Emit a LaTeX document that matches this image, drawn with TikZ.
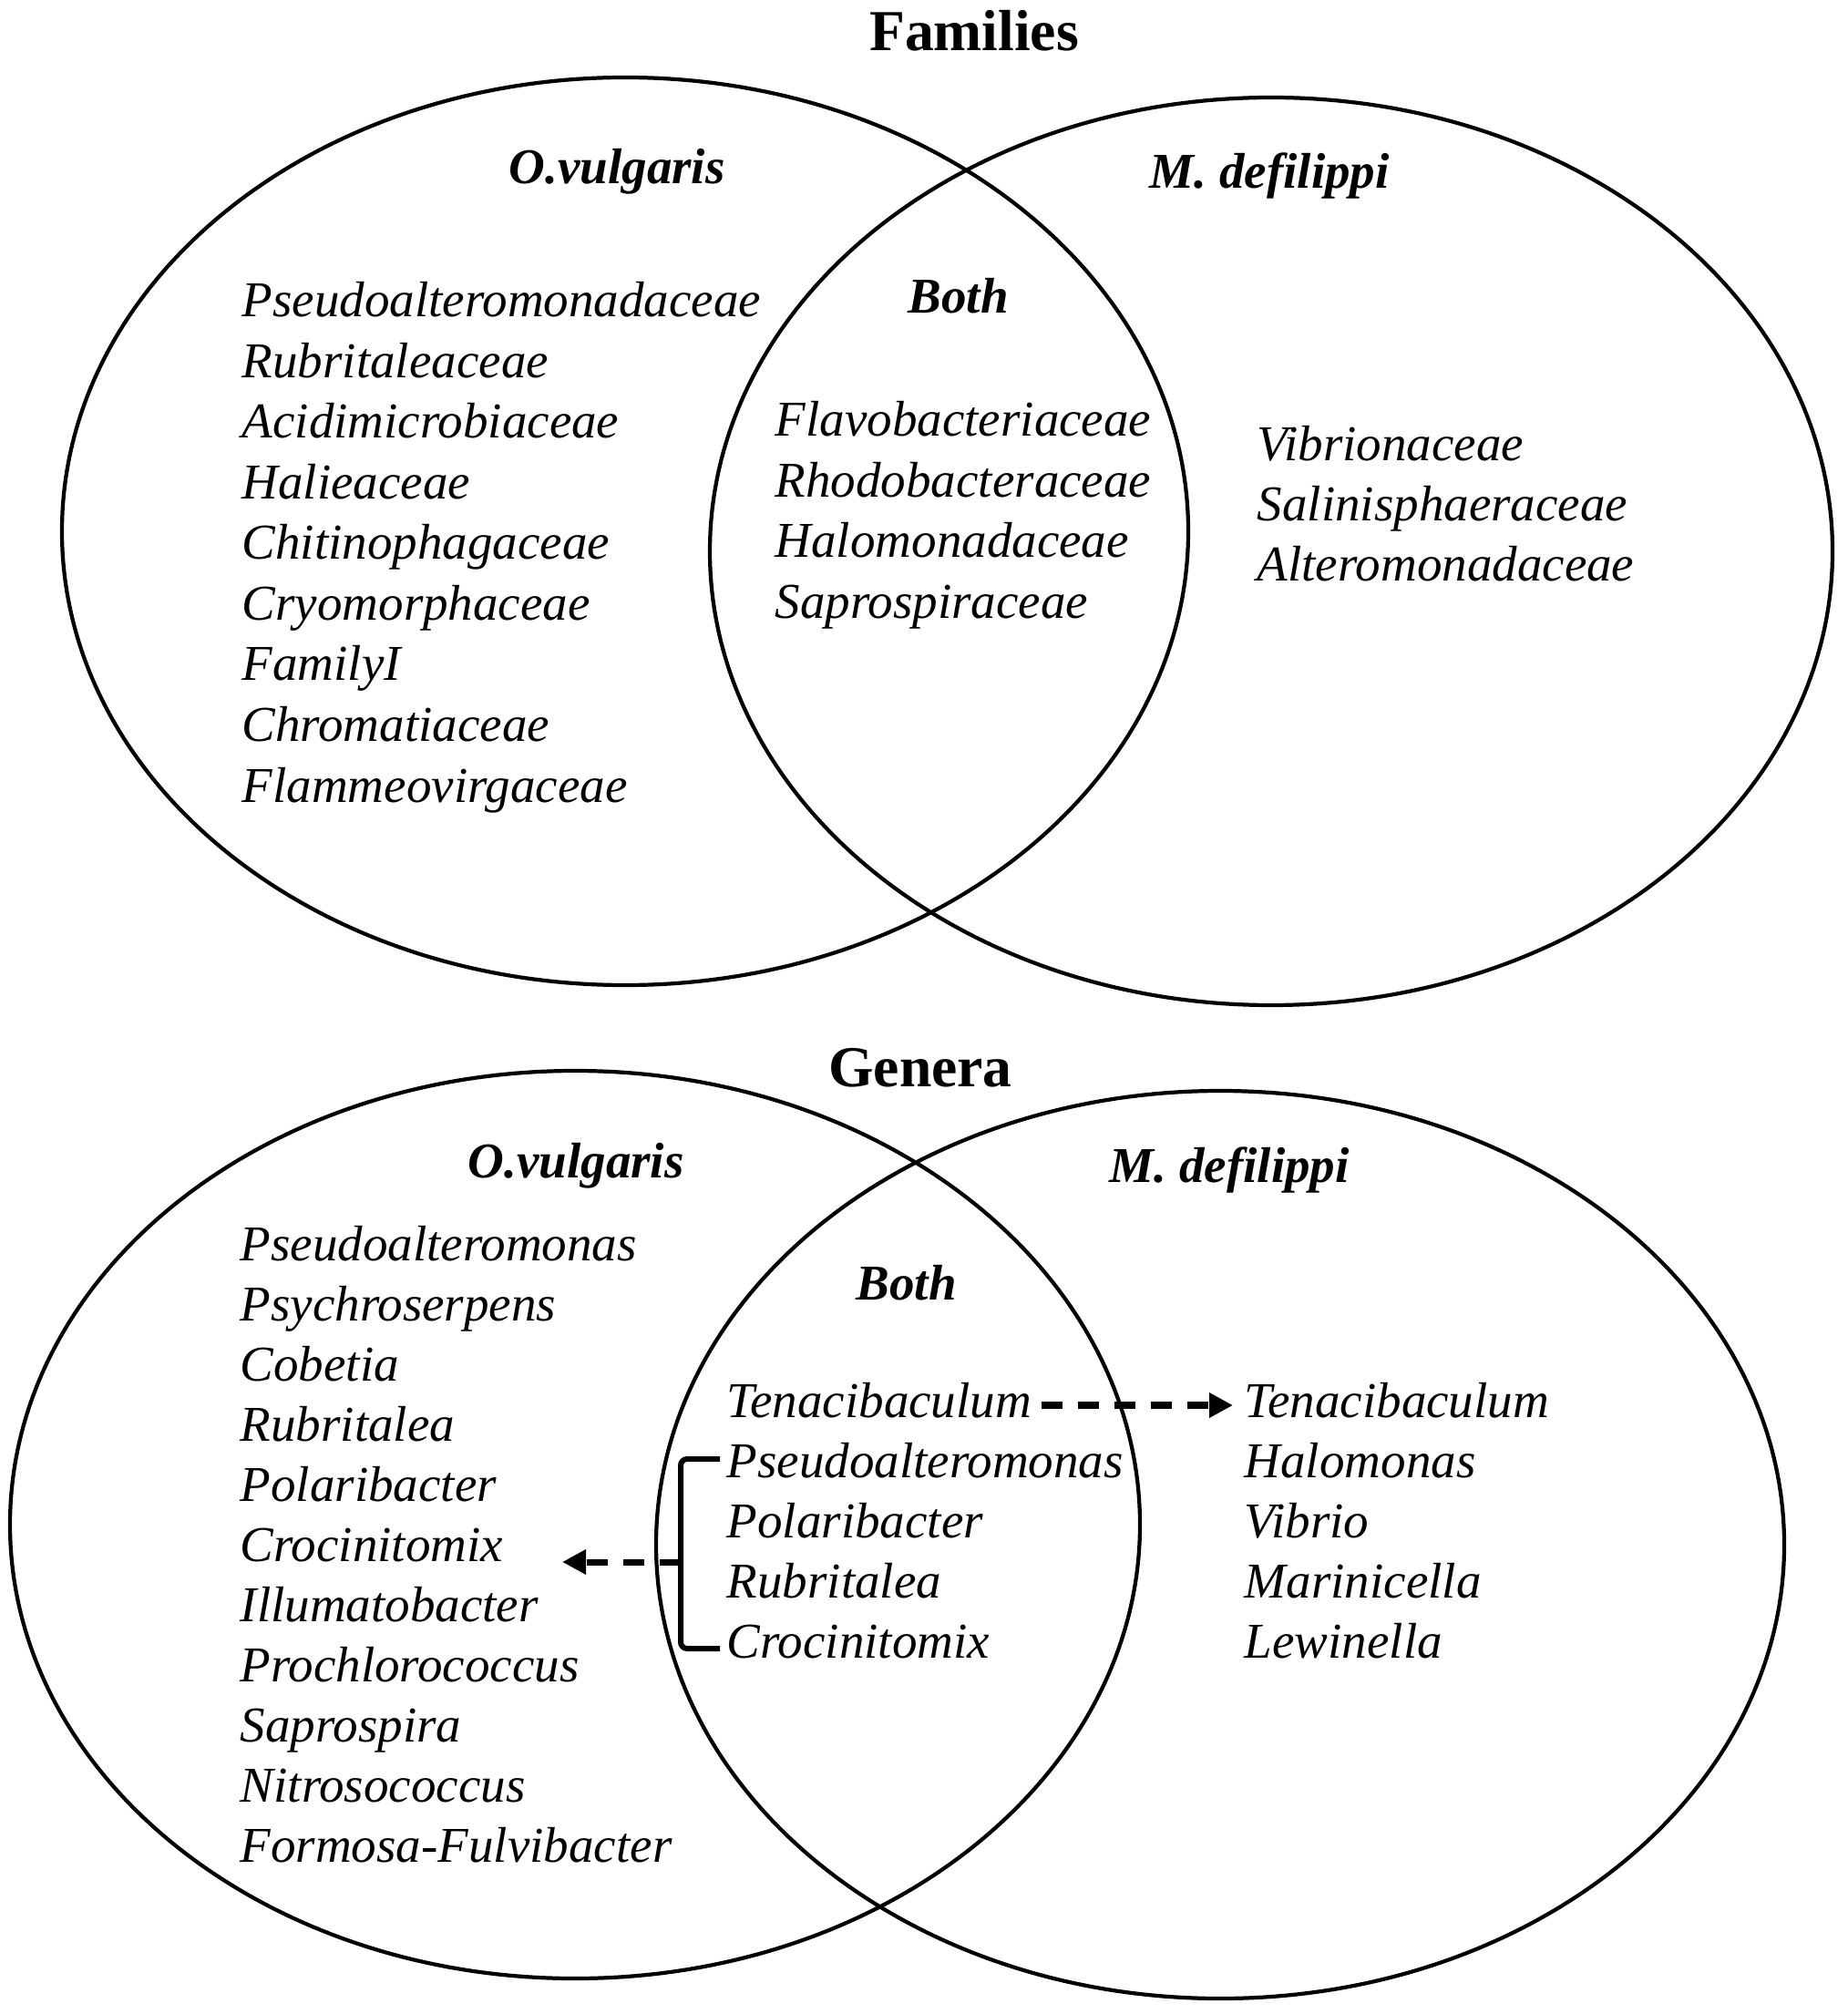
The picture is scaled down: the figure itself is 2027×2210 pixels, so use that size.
\documentclass[tikz,border=0pt]{standalone}
\usepackage{fontspec}
\setmainfont{Liberation Serif}
\usetikzlibrary{arrows.meta}
\tikzset{
    every node/.style={inner sep=0mm, anchor=base west},
    taxon/.style={font=\fontsize{15.65pt}{18pt}\selectfont\itshape},
    host/.style={font=\fontsize{15.65pt}{18pt}\selectfont\bfseries\itshape},
    heading/.style={font=\fontsize{18.1pt}{21pt}\selectfont\bfseries, anchor=base},
    venn/.style={line width=1.2pt},
    link/.style={line width=2pt, dash pattern=on 0.23cm off 0.17cm,
        -{Triangle[length=0.26cm, width=0.26cm]}},
    bracket/.style={line width=1.7pt, rounded corners=2pt}
}

\begin{document}
\begin{tikzpicture}[x=0.01cm, y=-0.01cm]
        \useasboundingbox (0,0) rectangle (2027,2210);
        % families
        \node (t0) [heading] at (1069, 56) {Families};
        \draw [venn] (686, 583) ellipse [x radius=618, y radius=498];
        \draw [venn] (1395, 605) ellipse [x radius=616, y radius=498];
        \node (fo) [host] at (558, 202) {O.vulgaris};
        \node (fm) [host] at (1261, 207) {M. defilippi};
        \node (fb) [host] at (996, 344) {Both};
        \node (fo0) [taxon] at (265, 348) {Pseudoalteromonadaceae};
        \node (fo1) [taxon] at (265, 414.5) {Rubritaleaceae};
        \node (fo2) [taxon] at (265, 481) {Acidimicrobiaceae};
        \node (fo3) [taxon] at (265, 547.5) {Halieaceae};
        \node (fo4) [taxon] at (265, 614) {Chitinophagaceae};
        \node (fo5) [taxon] at (265, 680.5) {Cryomorphaceae};
        \node (fo6) [taxon] at (265, 747) {FamilyI};
        \node (fo7) [taxon] at (265, 813.5) {Chromatiaceae};
        \node (fo8) [taxon] at (265, 880) {Flammeovirgaceae};
        \node (fb0) [taxon] at (850, 479) {Flavobacteriaceae};
        \node (fb1) [taxon] at (850, 545.5) {Rhodobacteraceae};
        \node (fb2) [taxon] at (850, 612) {Halomonadaceae};
        \node (fb3) [taxon] at (850, 678.5) {Saprospiraceae};
        \node (fm0) [taxon] at (1379, 506) {Vibrionaceae};
        \node (fm1) [taxon] at (1379, 572) {Salinisphaeraceae};
        \node (fm2) [taxon] at (1379, 638) {Alteromonadaceae};
        % genera
        \node (t1) [heading] at (1010, 1192) {Genera};
        \draw [venn] (631, 1673) ellipse [x radius=620, y radius=498];
        \draw [venn] (1339, 1695) ellipse [x radius=619, y radius=498];
        \node (go) [host] at (513, 1292) {O.vulgaris};
        \node (gm) [host] at (1217, 1297) {M. defilippi};
        \node (gb) [host] at (939, 1426) {Both};
        \node (go0) [taxon] at (263, 1383) {Pseudoalteromonas};
        \node (go1) [taxon] at (263, 1449) {Psychroserpens};
        \node (go2) [taxon] at (263, 1515) {Cobetia};
        \node (go3) [taxon] at (263, 1581) {Rubritalea};
        \node (go4) [taxon] at (263, 1647) {Polaribacter};
        \node (go5) [taxon] at (263, 1713) {Crocinitomix};
        \node (go6) [taxon] at (263, 1779) {Illumatobacter};
        \node (go7) [taxon] at (263, 1845) {Prochlorococcus};
        \node (go8) [taxon] at (263, 1911) {Saprospira};
        \node (go9) [taxon] at (263, 1977) {Nitrosococcus};
        \node (go10) [taxon] at (263, 2043) {Formosa-Fulvibacter};
        \node (gb0) [taxon] at (797, 1555) {Tenacibaculum};
        \node (gb1) [taxon] at (797, 1621) {Pseudoalteromonas};
        \node (gb2) [taxon] at (797, 1687) {Polaribacter};
        \node (gb3) [taxon] at (797, 1753) {Rubritalea};
        \node (gb4) [taxon] at (797, 1819) {Crocinitomix};
        \node (gm0) [taxon] at (1365, 1555) {Tenacibaculum};
        \node (gm1) [taxon] at (1365, 1621) {Halomonas};
        \node (gm2) [taxon] at (1365, 1687) {Vibrio};
        \node (gm3) [taxon] at (1365, 1753) {Marinicella};
        \node (gm4) [taxon] at (1365, 1819) {Lewinella};
        \coordinate (brk) at (747, 1714);
        \coordinate (tip) at (617, 1714);
        \draw [bracket] ([xshift=-0.07cm, yshift=0.2cm]gb1.base west) -| (brk)
                |- ([xshift=-0.07cm, yshift=0.1cm]gb4.base west);
        \draw [link] (brk) -- (tip);
        \draw [link, shorten <=0.1cm, shorten >=0.12cm]
                ([yshift=0.13cm]gb0.base east) -- ([yshift=0.13cm]gm0.base west);
\end{tikzpicture}
\end{document}
